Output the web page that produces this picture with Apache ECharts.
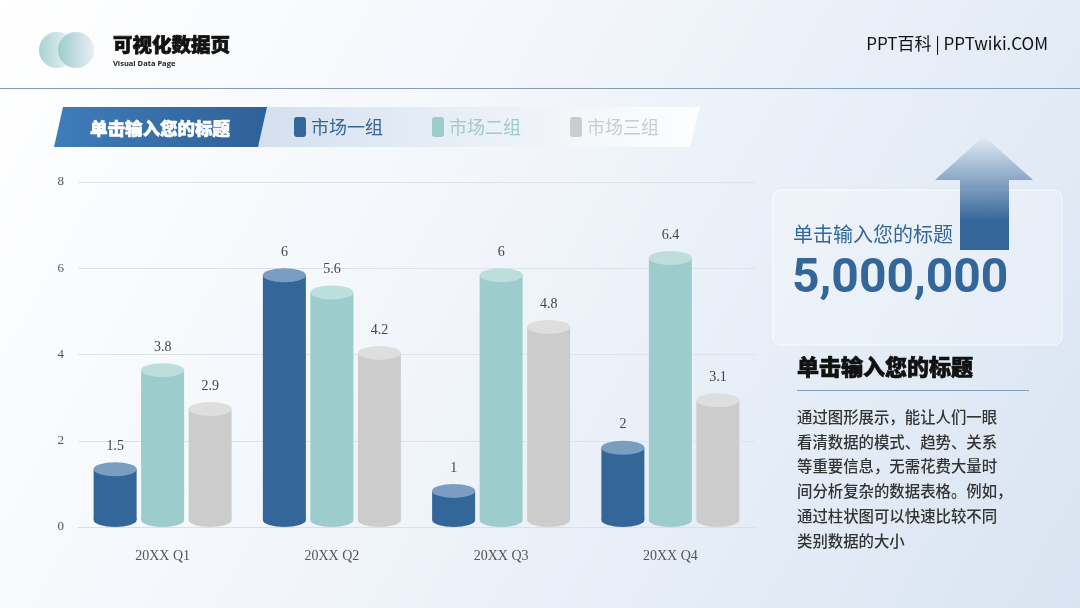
<!DOCTYPE html>
<html>
<head>
<meta charset="utf-8">
<script src="https://cdn.jsdelivr.net/npm/echarts@6/dist/echarts.min.js"></script>
<style>
  html, body { margin: 0; padding: 0; }
  #chart { width: 1080px; height: 608px; }
</style>
</head>
<body>
<div id="chart"></div>
<script>
var categories = ['20XX Q1', '20XX Q2', '20XX Q3', '20XX Q4'];
var group1 = [1.5, 6, 1, 2];
var group2 = [3.8, 5.6, 6, 6.4];
var group3 = [2.9, 4.2, 4.8, 3.1];
var seriesNames = ['市场一组', '市场二组', '市场三组'];
var yTicks = [0, 2, 4, 6, 8];

var sideColors = ['#336699', '#9ccccc', '#cccccc'];
var topColors = ['#7c9dc2', '#bcdedd', '#dedede'];
var offsets = [-47.5, 0, 47.5];
var barW = 43;
var ry = 7;
var serif = '"Liberation Serif", serif';
var cjk = '"Noto Sans CJK SC", sans-serif';

function cylinder(k) {
  return function (params, api) {
    var v = api.value(1);
    var top = api.coord([api.value(0), v]);
    var base = api.coord([api.value(0), 0]);
    var cx = top[0] + offsets[k];
    var k2 = ry / (barW / 2);
    return {
      type: 'group',
      children: [
        { type: 'rect', shape: { x: cx - barW / 2, y: top[1] + ry, width: barW, height: base[1] - top[1] - 2 * ry }, style: { fill: sideColors[k] } },
        { type: 'circle', x: cx, y: base[1] - ry, scaleY: k2, shape: { cx: 0, cy: 0, r: barW / 2 }, style: { fill: sideColors[k] } },
        { type: 'circle', x: cx, y: top[1] + ry, scaleY: k2, shape: { cx: 0, cy: 0, r: barW / 2 }, style: { fill: topColors[k] } },
        { type: 'text', x: cx, y: top[1] - 9, style: { text: String(v), textAlign: 'center', textVerticalAlign: 'bottom', font: '14px ' + serif, fill: '#444' } }
      ]
    };
  };
}

function pairs(arr) {
  return arr.map(function (v, i) { return [i, v]; });
}

var groups = [group1, group2, group3];
var series = groups.map(function (g, k) {
  return {
    name: seriesNames[k],
    type: 'custom',
    renderItem: cylinder(k),
    encode: { x: 0, y: 1 },
    itemStyle: { color: sideColors[k] },
    data: pairs(g),
    z: 5
  };
});

var paragraph = [
  '通过图形展示，能让人们一眼',
  '看清数据的模式、趋势、关系',
  '等重要信息，无需花费大量时',
  '间分析复杂的数据表格。例如，',
  '通过柱状图可以快速比较不同',
  '类别数据的大小'
];

var graphics = [
  // background
  { type: 'rect', z: -10, shape: { x: 0, y: 0, width: 1080, height: 608 },
    style: { fill: new echarts.graphic.LinearGradient(0, 0, 1, 1, [{ offset: 0, color: '#ffffff' }, { offset: 0.45, color: '#f1f5fb' }, { offset: 1, color: '#d9e4f2' }]) } },
  // header circles
  { type: 'circle', shape: { cx: 57, cy: 50, r: 18 },
    style: { fill: new echarts.graphic.LinearGradient(0, 0, 1, 0, [{ offset: 0, color: '#a9d3d2' }, { offset: 1, color: '#f2f6fa' }]) } },
  { type: 'circle', shape: { cx: 76, cy: 50, r: 18 },
    style: { fill: new echarts.graphic.LinearGradient(0, 0, 1, 0, [{ offset: 0, color: '#9ccccc' }, { offset: 1, color: '#e8eef6' }]) } },
  { type: 'text', x: 113, y: 45, style: { text: '可视化数据页', font: '900 19.5px ' + cjk, fill: '#111', stroke: '#111', lineWidth: 0.7, textVerticalAlign: 'middle' } },
  { type: 'text', x: 113, y: 64, style: { text: 'Visual Data Page', font: 'bold 7.5px "Open Sans", sans-serif', fill: '#222', textVerticalAlign: 'middle' } },
  { type: 'text', x: 1048, y: 44, style: { text: 'PPT百科 | PPTwiki.COM', font: '17px ' + cjk, fill: '#111', textAlign: 'right', textVerticalAlign: 'middle' } },
  { type: 'rect', shape: { x: 0, y: 88, width: 1080, height: 1 }, style: { fill: '#7f9dbf' } },
  // title banner
  { type: 'polygon', shape: { points: [[258, 107], [700, 107], [690, 147], [250, 147]] },
    style: { fill: new echarts.graphic.LinearGradient(0, 0, 1, 0, [{ offset: 0, color: '#d3dfee' }, { offset: 1, color: 'rgba(255,255,255,0.9)' }]) } },
  { type: 'polygon', shape: { points: [[63, 107], [267, 107], [258, 147], [54, 147]] },
    style: { fill: new echarts.graphic.LinearGradient(0, 0, 1, 0, [{ offset: 0, color: '#3f7cba' }, { offset: 1, color: '#2f6197' }]) } },
  { type: 'text', x: 160, y: 128, style: { text: '单击输入您的标题', font: '900 17.5px ' + cjk, fill: '#ffffff', stroke: '#ffffff', lineWidth: 0.6, textAlign: 'center', textVerticalAlign: 'middle' } },
  // right panel box
  { type: 'rect', shape: { x: 773, y: 190, width: 289, height: 155, r: 8 },
    style: { fill: 'rgba(255,255,255,0.25)', stroke: 'rgba(255,255,255,0.8)', lineWidth: 1 } },
  // arrow
  { type: 'polygon', z: 10, shape: { points: [[984, 136], [1033, 180], [1009, 180], [1009, 250], [960, 250], [960, 180], [935, 180]] },
    style: { fill: new echarts.graphic.LinearGradient(0, 0, 0, 1, [{ offset: 0, color: 'rgba(51,102,153,0)' }, { offset: 0.75, color: '#336699' }, { offset: 1, color: '#336699' }]) } },
  { type: 'text', z: 11, x: 793, y: 234, style: { text: '单击输入您的标题', font: '20px ' + cjk, fill: '#336699', textVerticalAlign: 'middle' } },
  { type: 'text', z: 11, x: 792, y: 280, style: { text: '5,000,000', font: 'bold 48px Roboto, sans-serif', fill: '#336699', textVerticalAlign: 'middle' } },
  { type: 'text', x: 797, y: 367, style: { text: '单击输入您的标题', font: '900 22px ' + cjk, fill: '#111', stroke: '#111', lineWidth: 0.7, textVerticalAlign: 'middle' } },
  { type: 'rect', shape: { x: 797, y: 390, width: 232, height: 1 }, style: { fill: '#7f9dbf' } }
];
paragraph.forEach(function (line, i) {
  graphics.push({ type: 'text', x: 797, y: 417 + i * 24.8, style: { text: line, font: '500 15.4px ' + cjk, fill: '#333', textVerticalAlign: 'middle' } });
});

var option = {
  animation: false,
  grid: { left: 78, right: 325, top: 182, bottom: 81 },
  legend: {
    left: 289,
    top: 112,
    itemWidth: 12,
    itemHeight: 20,
    itemGap: 49,
    icon: 'roundRect',
    data: seriesNames.map(function (n, k) {
      return { name: n, textStyle: { color: sideColors[k], fontSize: 18, fontFamily: cjk } };
    })
  },
  xAxis: {
    type: 'category',
    data: categories,
    axisTick: { show: false },
    axisLine: { lineStyle: { color: '#dcdfe4' } },
    axisLabel: { color: '#555', fontFamily: serif, fontSize: 14, margin: 22 }
  },
  yAxis: {
    type: 'value',
    min: yTicks[0],
    max: yTicks[yTicks.length - 1],
    interval: 2,
    axisLabel: { color: '#555', fontFamily: serif, fontSize: 13, margin: 14 },
    splitLine: { lineStyle: { color: '#dfe3e9' } }
  },
  graphic: graphics,
  series: series
};

var myChart = echarts.init(document.getElementById('chart'));
myChart.setOption(option);
</script>
</body>
</html>
